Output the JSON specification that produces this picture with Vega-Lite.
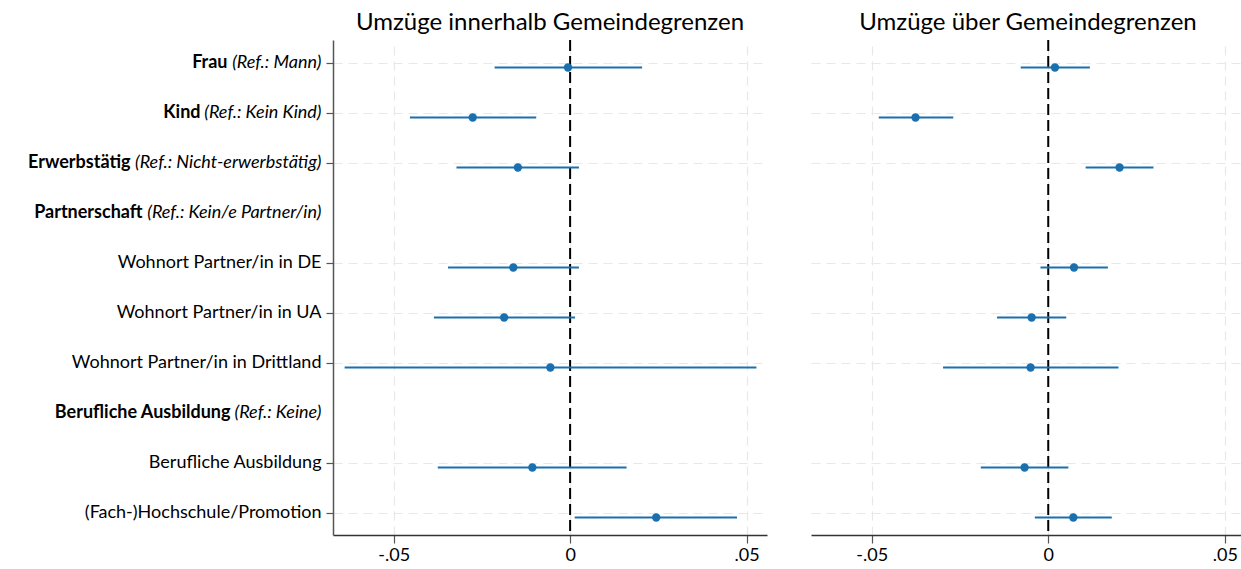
{
  "$schema": "https://vega.github.io/schema/vega-lite/v6.json",
  "background": "white",
  "padding": {"left": 27, "top": 11, "right": 0, "bottom": 5},
  "bounds": "flush",
  "spacing": 44,
  "config": {
    "font": "Lato",
    "view": {"stroke": null},
    "title": {"font": "Lato", "fontSize": 24, "fontWeight": "normal", "color": "black", "anchor": "middle", "offset": 4},
    "axis": {"labelFont": "Lato", "labelColor": "black", "labelFontSize": 18, "labelLimit": 500, "titleFont": "Lato"}
  },
  "datasets": {
    "coefs": [
      {"model": "inner", "term": "Frau (Ref.: Mann)", "coef": -0.0006, "lo": -0.0214, "hi": 0.0204},
      {"model": "inner", "term": "Kind (Ref.: Kein Kind)", "coef": -0.0276, "lo": -0.0454, "hi": -0.0096},
      {"model": "inner", "term": "Erwerbstätig (Ref.: Nicht-erwerbstätig)", "coef": -0.0148, "lo": -0.0322, "hi": 0.0025},
      {"model": "inner", "term": "Wohnort Partner/in in DE", "coef": -0.0161, "lo": -0.0346, "hi": 0.0025},
      {"model": "inner", "term": "Wohnort Partner/in in UA", "coef": -0.0187, "lo": -0.0386, "hi": 0.0014},
      {"model": "inner", "term": "Wohnort Partner/in in Drittland", "coef": -0.0056, "lo": -0.0639, "hi": 0.0528},
      {"model": "inner", "term": "Berufliche Ausbildung", "coef": -0.0107, "lo": -0.0375, "hi": 0.0160},
      {"model": "inner", "term": "(Fach-)Hochschule/Promotion", "coef": 0.0244, "lo": 0.0013, "hi": 0.0473},
      {"model": "ueber", "term": "Frau (Ref.: Mann)", "coef": 0.0019, "lo": -0.0078, "hi": 0.0118},
      {"model": "ueber", "term": "Kind (Ref.: Kein Kind)", "coef": -0.0376, "lo": -0.0480, "hi": -0.0269},
      {"model": "ueber", "term": "Erwerbstätig (Ref.: Nicht-erwerbstätig)", "coef": 0.0202, "lo": 0.0106, "hi": 0.0298},
      {"model": "ueber", "term": "Wohnort Partner/in in DE", "coef": 0.0073, "lo": -0.0022, "hi": 0.0169},
      {"model": "ueber", "term": "Wohnort Partner/in in UA", "coef": -0.0047, "lo": -0.0145, "hi": 0.0051},
      {"model": "ueber", "term": "Wohnort Partner/in in Drittland", "coef": -0.0050, "lo": -0.0298, "hi": 0.0199},
      {"model": "ueber", "term": "Berufliche Ausbildung", "coef": -0.0067, "lo": -0.0191, "hi": 0.0057},
      {"model": "ueber", "term": "(Fach-)Hochschule/Promotion", "coef": 0.0071, "lo": -0.0038, "hi": 0.0180}
    ]
  },
  "hconcat": [
    {
      "width": 434,
      "height": 495,
      "title": {"text": "Umzüge innerhalb Gemeindegrenzen"},
      "data": {"name": "coefs"},
      "transform": [{"filter": "datum.model == 'inner'"}],
      "resolve": {"axis": {"y": "independent"}},
      "layer": [
        {
          "data": {"values": [{}]},
          "mark": {"type": "rule", "color": "black", "strokeWidth": 2, "strokeDash": [11, 5]},
          "encoding": {
            "x": {"datum": 0, "type": "quantitative", "title": null, "scale": {"domain": [-0.0672, 0.0558], "nice": false, "zero": false}}
          }
        },
        {
          "mark": {"type": "rule", "color": "#1a70ae", "strokeWidth": 2, "yOffset": 5},
          "encoding": {
            "y": {
              "field": "term", "type": "nominal", "title": null,
              "scale": {"type": "point", "padding": 0.45, "domain": ["Frau (Ref.: Mann)", "Kind (Ref.: Kein Kind)", "Erwerbstätig (Ref.: Nicht-erwerbstätig)", "Partnerschaft (Ref.: Kein/e Partner/in)", "Wohnort Partner/in in DE", "Wohnort Partner/in in UA", "Wohnort Partner/in in Drittland", "Berufliche Ausbildung (Ref.: Keine)", "Berufliche Ausbildung", "(Fach-)Hochschule/Promotion"]},
              "axis": {
                "orient": "left",
                "labelExpr": "indexof(datum.value, ' (Ref.') >= 0 ? substring(datum.value, indexof(datum.value, ' (Ref.') + 1) : datum.value",
                "labelFontStyle": {"condition": {"test": "indexof(datum.value, '(Ref.') >= 0", "value": "italic"}, "value": "normal"},
                "labelPadding": 5,
                "labelBaseline": "middle",
                "tickSize": 7,
                "tickColor": "#555555",
                "tickWidth": 1.2,
                "tickOpacity": {"condition": {"test": "indexof(datum.value, 'Partnerschaft') == 0 || indexof(datum.value, '(Ref.: Keine)') >= 0", "value": 0}, "value": 1},
                "domain": true,
                "domainColor": "#555555",
                "domainWidth": 1.5,
                "grid": true,
                "gridColor": "#e8e8e8",
                "gridDash": [9, 6],
                "gridWidth": 1.2,
                "gridOpacity": {"condition": {"test": "indexof(datum.value, 'Partnerschaft') == 0 || indexof(datum.value, '(Ref.: Keine)') >= 0", "value": 0}, "value": 1}
              }
            },
            "x": {
              "field": "lo", "type": "quantitative", "title": null,
              "scale": {"domain": [-0.0672, 0.0558], "nice": false, "zero": false},
              "axis": {
                "values": [-0.05, 0, 0.05],
                "labelExpr": "datum.value < -0.01 ? '-.05' : (datum.value > 0.01 ? '.05' : '0')",
                "tickSize": 8, "tickColor": "#555555", "tickWidth": 1.2,
                "labelPadding": 3,
                "domainColor": "#333333", "domainWidth": 1.5,
                "grid": true, "gridColor": "#e8e8e8", "gridDash": [9, 6], "gridWidth": 1.2
              }
            },
            "x2": {"field": "hi"}
          }
        },
        {
          "mark": {"type": "circle", "color": "#1a70ae", "opacity": 1, "size": 70, "yOffset": 5},
          "encoding": {
            "x": {"field": "coef", "type": "quantitative", "title": null},
            "y": {
              "field": "term", "type": "nominal", "title": null,
              "scale": {"type": "point", "padding": 0.45, "domain": ["Frau (Ref.: Mann)", "Kind (Ref.: Kein Kind)", "Erwerbstätig (Ref.: Nicht-erwerbstätig)", "Partnerschaft (Ref.: Kein/e Partner/in)", "Wohnort Partner/in in DE", "Wohnort Partner/in in UA", "Wohnort Partner/in in Drittland", "Berufliche Ausbildung (Ref.: Keine)", "Berufliche Ausbildung", "(Fach-)Hochschule/Promotion"]},
              "axis": {
                "orient": "left",
                "labelExpr": "indexof(datum.value, ' (Ref.') >= 0 ? substring(datum.value, 0, indexof(datum.value, ' (Ref.')) : ''",
                "labelFontWeight": "bold",
                "labelBaseline": "middle",
                "ticks": false,
                "tickSize": 0,
                "domain": false,
                "grid": false,
                "labelPadding": {"condition": [
                  {"test": "indexof(datum.value, 'Frau') == 0", "value": 106},
                  {"test": "indexof(datum.value, 'Kind') == 0", "value": 133},
                  {"test": "indexof(datum.value, 'Erwerbs') == 0", "value": 203},
                  {"test": "indexof(datum.value, 'Partnerschaft') == 0", "value": 191},
                  {"test": "indexof(datum.value, 'Berufliche Ausbildung (Ref.') == 0", "value": 103}
                ], "value": 5}
              }
            }
          }
        }
      ]
    },
    {
      "width": 430,
      "height": 495,
      "title": {"text": "Umzüge über Gemeindegrenzen", "dx": 2},
      "data": {"name": "coefs"},
      "transform": [{"filter": "datum.model == 'ueber'"}],
      "layer": [
        {
          "data": {"values": [{}]},
          "mark": {"type": "rule", "color": "black", "strokeWidth": 2, "strokeDash": [11, 5]},
          "encoding": {
            "x": {"datum": 0, "type": "quantitative", "title": null, "scale": {"domain": [-0.0672, 0.0546], "nice": false, "zero": false}}
          }
        },
        {
          "mark": {"type": "rule", "color": "#1a70ae", "strokeWidth": 2, "yOffset": 5},
          "encoding": {
            "y": {
              "field": "term", "type": "nominal", "title": null,
              "scale": {"type": "point", "padding": 0.45, "domain": ["Frau (Ref.: Mann)", "Kind (Ref.: Kein Kind)", "Erwerbstätig (Ref.: Nicht-erwerbstätig)", "Partnerschaft (Ref.: Kein/e Partner/in)", "Wohnort Partner/in in DE", "Wohnort Partner/in in UA", "Wohnort Partner/in in Drittland", "Berufliche Ausbildung (Ref.: Keine)", "Berufliche Ausbildung", "(Fach-)Hochschule/Promotion"]},
              "axis": {
                "labels": false, "ticks": false, "domain": false,
                "grid": true, "gridColor": "#e8e8e8", "gridDash": [9, 6], "gridWidth": 1.2,
                "gridOpacity": {"condition": {"test": "indexof(datum.value, 'Partnerschaft') == 0 || indexof(datum.value, '(Ref.: Keine)') >= 0", "value": 0}, "value": 1}
              }
            },
            "x": {
              "field": "lo", "type": "quantitative", "title": null,
              "scale": {"domain": [-0.0672, 0.0546], "nice": false, "zero": false},
              "axis": {
                "values": [-0.05, 0, 0.05],
                "labelExpr": "datum.value < -0.01 ? '-.05' : (datum.value > 0.01 ? '.05' : '0')",
                "tickSize": 8, "tickColor": "#555555", "tickWidth": 1.2,
                "labelPadding": 3,
                "domainColor": "#333333", "domainWidth": 1.5,
                "grid": true, "gridColor": "#e8e8e8", "gridDash": [9, 6], "gridWidth": 1.2
              }
            },
            "x2": {"field": "hi"}
          }
        },
        {
          "mark": {"type": "circle", "color": "#1a70ae", "opacity": 1, "size": 70, "yOffset": 5},
          "encoding": {
            "x": {"field": "coef", "type": "quantitative", "title": null},
            "y": {"field": "term", "type": "nominal", "title": null}
          }
        }
      ]
    }
  ]
}
